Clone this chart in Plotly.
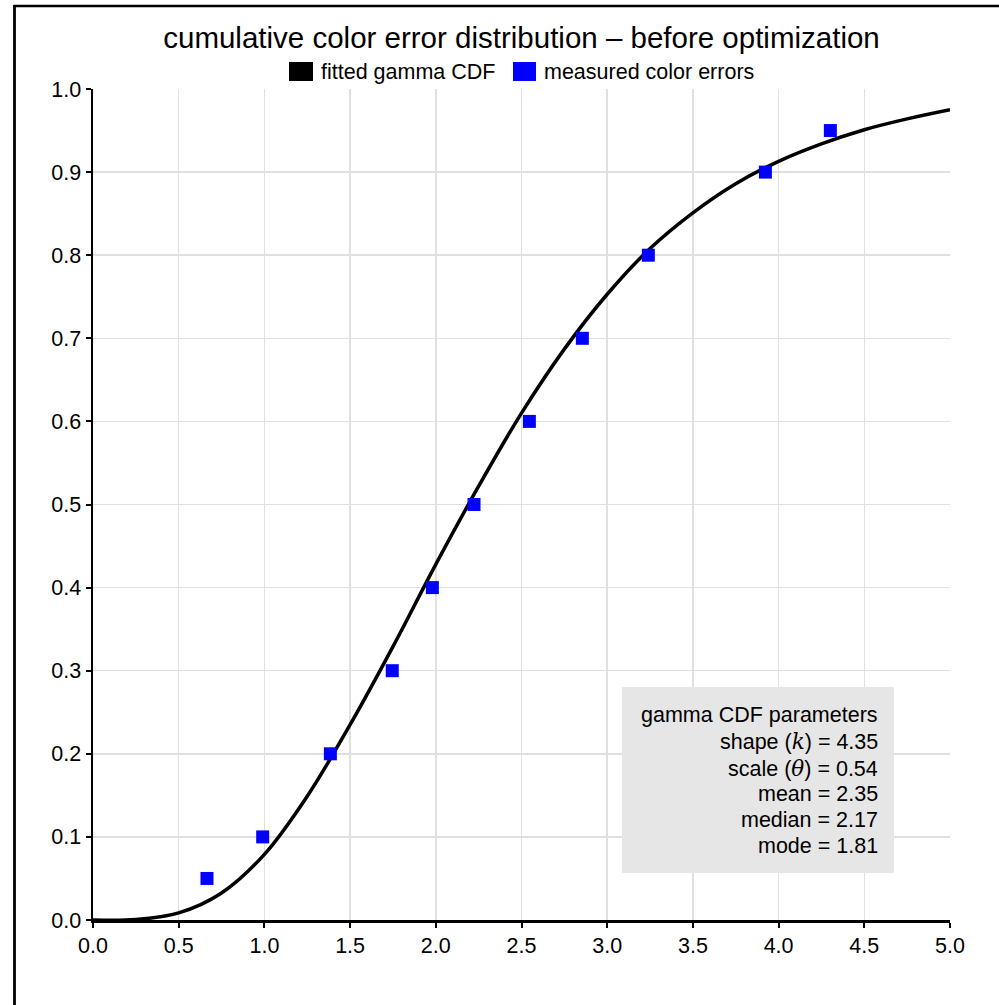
import plotly.graph_objects as go

# ---- data ----
curve_x = [0.0, 0.25, 0.5, 0.75, 1.0, 1.25, 1.5, 1.75, 2.0, 2.25, 2.5,
           2.75, 3.0, 3.25, 3.5, 3.75, 4.0, 4.25, 4.5, 4.75, 5.0]
curve_y = [0.0, 0.0005, 0.0085, 0.0325, 0.079, 0.149, 0.235, 0.329, 0.428, 0.522, 0.61,
           0.687, 0.753, 0.808, 0.851, 0.886, 0.913, 0.934, 0.951, 0.964, 0.975]

meas_x = [0.665, 0.99, 1.385, 1.746, 1.98, 2.223, 2.546, 2.855, 3.24, 3.923, 4.302]
meas_y = [0.05, 0.1, 0.2, 0.3, 0.4, 0.5, 0.6, 0.7, 0.8, 0.9, 0.95]

title_text = "cumulative color error distribution \u2013 before optimization"
legend_names = ["fitted gamma CDF", "measured color errors"]
legend_colors = ["#000000", "#0000ff"]
SERIF = "font-family:'DejaVu Serif','Liberation Serif',serif"
param_lines = [
    "gamma CDF parameters",
    "shape (<span style=\"" + SERIF + "\"><i>k</i></span>) = 4.35",
    "scale (<span style=\"" + SERIF + "\"><i>\u03b8</i></span>) = 0.54",
    "mean = 2.35",
    "median = 2.17",
    "mode = 1.81",
]

FONT = "Arial, 'Liberation Sans', Helvetica, sans-serif"
W, H = 999, 1005
L, T = 93, 89
R = W - 950
B = H - 920
PW, PH = W - L - R, H - T - B


def px(xp):
    """screen x pixel -> paper coordinate"""
    return (xp - L) / PW


def py(yp):
    """screen y pixel -> paper coordinate"""
    return (H - B - yp) / PH


fig = go.Figure()
fig.add_trace(go.Scatter(
    x=curve_x, y=curve_y, mode="lines", name=legend_names[0],
    line=dict(color=legend_colors[0], width=3.5, shape="spline", smoothing=1.0),
    showlegend=False))
fig.add_trace(go.Scatter(
    x=meas_x, y=meas_y, mode="markers", name=legend_names[1],
    marker=dict(symbol="square", size=13, color=legend_colors[1], line=dict(width=0)),
    showlegend=False))

shapes = []
annotations = []

# figure border (top and left edges; right / bottom lie outside the captured area)
shapes.append(dict(type="line", xref="paper", yref="paper",
                   x0=px(13.5), x1=px(999), y0=py(6), y1=py(6),
                   line=dict(color="black", width=2.5), layer="above"))
shapes.append(dict(type="line", xref="paper", yref="paper",
                   x0=px(14.5), x1=px(14.5), y0=py(5), y1=py(1005),
                   line=dict(color="black", width=2.8), layer="above"))

# manual legend
leg_boxes = [(289, 313), (513, 536)]
leg_text_x = [319, 542]
for (x0, x1), tx, name, col in zip(leg_boxes, leg_text_x, legend_names, legend_colors):
    shapes.append(dict(type="rect", xref="paper", yref="paper",
                       x0=px(x0), x1=px(x1), y0=py(81), y1=py(62),
                       fillcolor=col, line=dict(width=0)))
    annotations.append(dict(xref="paper", yref="paper", x=px(tx), y=py(72),
                            xanchor="left", yanchor="middle", showarrow=False,
                            text=name, font=dict(family=FONT, size=21.5, color="black")))

# parameter box
shapes.append(dict(type="rect", xref="paper", yref="paper",
                   x0=px(622), x1=px(894), y0=py(873), y1=py(687),
                   fillcolor="#e6e6e6", line=dict(width=0), layer="above"))
line_centers = [715, 741.5, 768, 794.3, 820, 846]
for txt, yc in zip(param_lines, line_centers):
    annotations.append(dict(xref="paper", yref="paper", x=px(880), y=py(yc),
                            xanchor="right", yanchor="middle", showarrow=False,
                            align="right", text=txt,
                            font=dict(family=FONT, size=21.5, color="black")))

fig.update_layout(
    width=W, height=H,
    margin=dict(l=L, r=R, t=T, b=B),
    paper_bgcolor="white", plot_bgcolor="white",
    font=dict(family=FONT, size=21, color="black"),
    title=dict(text=title_text, x=521.5 / W, xanchor="center",
               y=1 - 38 / H, yanchor="middle", yref="container",
               font=dict(family=FONT, size=29.5, color="black")),
    showlegend=False,
    hovermode=False,
    shapes=shapes,
    annotations=annotations,
    xaxis=dict(range=[0, 5], dtick=0.5, tick0=0, tickformat=".1f",
               showgrid=True, gridcolor="#e0e0e0", gridwidth=1.5,
               showline=True, linecolor="black", linewidth=2.5,
               ticks="outside", ticklen=5, tickwidth=2, tickcolor="black",
               zeroline=False, fixedrange=True,
               tickfont=dict(family=FONT, size=21.5, color="black")),
    yaxis=dict(range=[0, 1], dtick=0.1, tick0=0, tickformat=".1f",
               showgrid=True, gridcolor="#e0e0e0", gridwidth=1.5,
               showline=True, linecolor="black", linewidth=2.5,
               ticks="outside", ticklen=5, tickwidth=2, tickcolor="black",
               zeroline=False, fixedrange=True,
               tickfont=dict(family=FONT, size=21.5, color="black")),
)

fig.write_html("out.html",
               config={"displayModeBar": False, "staticPlot": True},
               post_script="document.body.style.margin='0px';"
                           "document.body.style.overflow='hidden';")
